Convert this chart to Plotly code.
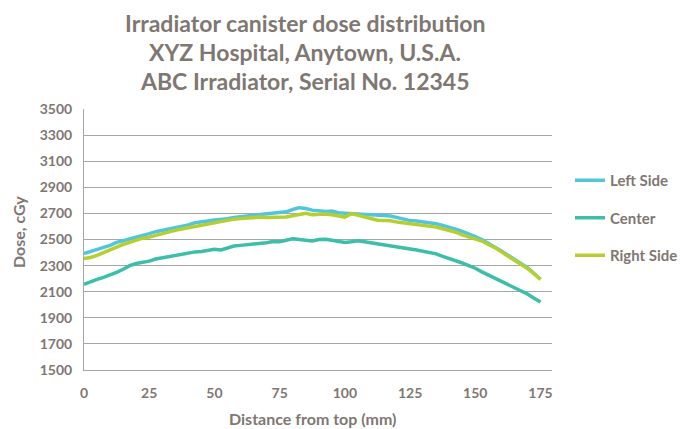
import plotly.graph_objects as go

distance_mm = [i * 2.5 for i in range(71)]

left_side = [2392, 2410, 2425, 2440, 2455, 2478, 2490, 2502, 2515, 2530,
             2545, 2560, 2570, 2580, 2592, 2602, 2612, 2628, 2638, 2642,
             2649, 2652, 2660, 2668, 2672, 2680, 2685, 2692, 2696, 2700,
             2705, 2712, 2730, 2744, 2738, 2725, 2720, 2714, 2718, 2705,
             2702, 2700, 2695, 2690, 2688, 2686, 2684, 2680, 2670, 2655,
             2645, 2642, 2635, 2630, 2620, 2607, 2595, 2580, 2562, 2545,
             2522, 2500, 2472, 2445, 2412, 2380, 2350, 2318, 2285, 2240,
             2195]

center = [2157, 2178, 2195, 2210, 2228, 2248, 2272, 2300, 2316, 2325,
          2334, 2350, 2360, 2370, 2380, 2390, 2398, 2405, 2408, 2415,
          2426, 2420, 2436, 2450, 2455, 2460, 2462, 2466, 2475, 2485,
          2482, 2494, 2505, 2500, 2492, 2488, 2500, 2502, 2495, 2488,
          2478, 2482, 2490, 2482, 2475, 2468, 2462, 2455, 2446, 2440,
          2428, 2420, 2410, 2400, 2390, 2370, 2355, 2338, 2320, 2300,
          2280, 2252, 2228, 2205, 2180, 2155, 2135, 2110, 2082, 2050,
          2021]

right_side = [2354, 2362, 2378, 2400, 2425, 2445, 2462, 2478, 2495, 2510,
              2518, 2532, 2545, 2555, 2570, 2580, 2590, 2600, 2606, 2618,
              2628, 2635, 2645, 2656, 2660, 2663, 2668, 2672, 2668, 2670,
              2666, 2672, 2682, 2690, 2700, 2690, 2694, 2696, 2690, 2680,
              2672, 2698, 2685, 2676, 2665, 2648, 2645, 2643, 2634, 2628,
              2622, 2618, 2610, 2605, 2595, 2582, 2570, 2556, 2536, 2520,
              2505, 2488, 2462, 2438, 2405, 2375, 2342, 2308, 2278, 2238,
              2195]

series_names = ["Left Side", "Center", "Right Side"]
series_colors = ["#52C5DD", "#3BBFA8", "#B4CF2F"]
x_ticks = [0, 25, 50, 75, 100, 125, 150, 175]
y_ticks = list(range(1500, 3501, 200))
title_lines = ["Irradiator canister dose distribution",
               "XYZ Hospital, Anytown, U.S.A.",
               "ABC Irradiator, Serial No. 12345"]
x_title = "Distance from top (mm)"
y_title = "Dose, cGy"

text_color = "#7F7772"
font_family = "Lato, 'Open Sans', sans-serif"

# page body has an 8px margin; layout is specified in screen pixels
OFF = 8
W, H = 690, 429
SL, SR, ST, SB = 84, 552, 109, 370  # plot area on screen
L, T = SL - OFF, ST - OFF
R = W - (SR - OFF)
B = H - (SB - OFF)
PH = SB - ST
PW = SR - SL


def py(yp):
    return (SB - yp) / PH


def px(xp):
    return (xp - SL) / PW


fig = go.Figure()
for name, vals, col in zip(series_names, [left_side, center, right_side], series_colors):
    fig.add_trace(go.Scatter(
        x=distance_mm, y=vals, mode="lines", name=name, legendgroup=name,
        line=dict(color=col, width=3.5),
    ))

annotations = []
for i, line in enumerate(title_lines):
    annotations.append(dict(
        text=line, xref="paper", yref="paper", x=px(305), y=py(23 + 29 * i),
        xanchor="center", yanchor="middle", showarrow=False,
        font=dict(size=23, color=text_color, family=font_family, weight="bold"),
    ))
annotations.append(dict(
    text=x_title, xref="paper", yref="paper", x=px(312), y=py(418),
    xanchor="center", yanchor="middle", showarrow=False,
    font=dict(size=16, color=text_color, family=font_family, weight="bold"),
))
annotations.append(dict(
    text=y_title, xref="paper", yref="paper", x=px(18), y=py(232),
    xanchor="center", yanchor="middle", showarrow=False, textangle=-90,
    font=dict(size=16, color=text_color, family=font_family, weight="bold"),
))

fig.update_layout(
    width=W, height=H,
    paper_bgcolor="white", plot_bgcolor="white",
    margin=dict(l=L, r=R, t=T, b=B, autoexpand=False),
    font=dict(family=font_family, color=text_color),
    annotations=annotations,
    legend=dict(
        x=px(570), y=py(164), xanchor="left", yanchor="top",
        font=dict(size=15, color=text_color, family=font_family, weight="bold"),
        tracegroupgap=15, bgcolor="rgba(0,0,0,0)",
    ),
    showlegend=True,
)

fig.update_xaxes(
    range=[0, 179.4], tickvals=x_ticks, ticktext=[str(t) for t in x_ticks],
    showgrid=False, showline=True, linecolor="#A6A6A6", linewidth=1,
    ticks="outside", ticklen=10, tickcolor="rgba(0,0,0,0)",
    tickfont=dict(size=14, color=text_color, family=font_family, weight="bold"),
    zeroline=False, automargin=False,
)
fig.update_yaxes(
    range=[1500, 3500], tickvals=y_ticks,
    showgrid=True, gridcolor="#A6A6A6", gridwidth=1,
    showline=True, linecolor="#A6A6A6", linewidth=1,
    ticks="outside", ticklen=8, tickcolor="rgba(0,0,0,0)",
    tickfont=dict(size=14, color=text_color, family=font_family, weight="bold"),
    zeroline=False, automargin=False,
)

fig.write_html("out.html")
